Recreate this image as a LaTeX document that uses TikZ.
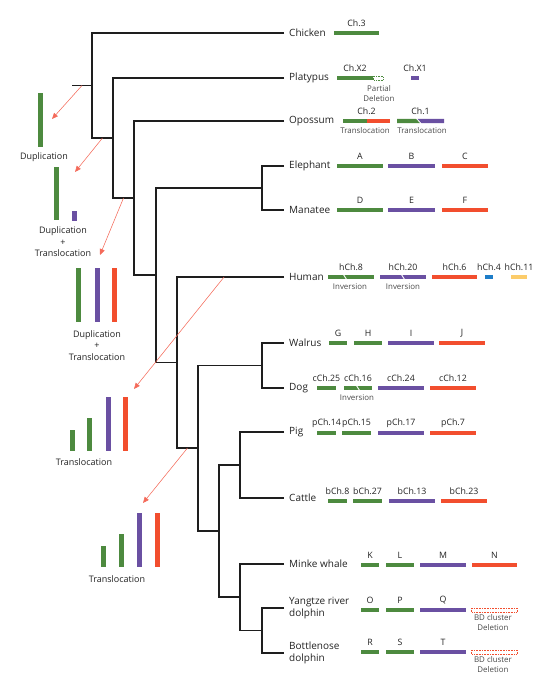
\documentclass[tikz,border=0pt]{standalone}
\usepackage{fontspec}
\setmainfont{Open Sans}
\usepackage{xcolor}
\usepackage{tikz}
\usetikzlibrary{calc,arrows.meta,positioning}
\definecolor{ink}{HTML}{222222}
\definecolor{muted}{HTML}{4A4A4A}
\definecolor{treeline}{HTML}{1E1E1E}
\definecolor{cgreen}{HTML}{4D8A3F}
\definecolor{cpurple}{HTML}{6A50A2}
\definecolor{cred}{HTML}{F24E2E}
\definecolor{cblue}{HTML}{1E7DC8}
\definecolor{cyellow}{HTML}{FCCC6A}
\definecolor{arrowred}{HTML}{F46A5A}
\tikzset{
  branch/.style={draw=treeline, line width=1.3pt, line join=miter},
  leaf/.style={text=ink, font=\fontsize{10}{12.5}\selectfont, inner sep=0pt, align=left},
  chrlab/.style={text=ink, font=\fontsize{8.8}{10}\selectfont, inner sep=0pt},
  note/.style={text=muted, font=\fontsize{7.9}{10}\selectfont, inner sep=0pt, align=center},
  evlab/.style={text=ink, font=\fontsize{9}{11.5}\selectfont, inner sep=0pt, align=center},
  evarrow/.style={draw=arrowred, line width=0.55pt, -{Triangle[length=6pt,width=5pt]}},
  slash/.style={draw=white, line width=0.9pt},
  lost/.style={line width=0.6pt, densely dotted},
}
\newcommand{\chrom}[6]{% name, colour, from, to, y, label
  \fill[#2] (#3,#5-2.2) rectangle (#4,#5+2.2);
  \node[chrlab] (#1) at ({(#3+#4)/2},#5-9.5) {#6};}
\newcommand{\evbar}[4]{\fill[#1] (#2-2.5,#3) rectangle (#2+2.5,#4);}

\begin{document}
\begin{tikzpicture}[x=1pt,y=-1pt]
  \useasboundingbox (0,0) rectangle (553,696);

  % leaf tips
  \coordinate (tChicken) at (284,33);
  \coordinate (tPlatypus) at (284,78);
  \coordinate (tOpossum) at (284,121);
  \coordinate (tElephant) at (284,166);
  \coordinate (tManatee) at (284,210);
  \coordinate (tHuman) at (284,277);
  \coordinate (tWalrus) at (284,343);
  \coordinate (tDog) at (284,388);
  \coordinate (tPig) at (284,432);
  \coordinate (tCattle) at (284,498);
  \coordinate (tMinke) at (284,564);
  \coordinate (tYangtze) at (284,608);
  \coordinate (tBottlenose) at (284,653);

  % inner nodes
  \coordinate (root) at (72,85.5);
  \coordinate (n0) at (92,85.5);
  \coordinate (n1) at (113,138);
  \coordinate (n2) at (134,198);
  \coordinate (n3) at (156,275);
  \coordinate (nAfro) at (262,188); % elephant + manatee
  \coordinate (n4) at (177,362.5);
  \coordinate (nLaur) at (198,448);
  \coordinate (nCarn) at (262,365.5); % walrus + dog
  \coordinate (nCetart) at (219,531);
  \coordinate (nArt) at (240,465); % pig + cattle
  \coordinate (nCet) at (240,597);
  \coordinate (nDol) at (262,630.5); % dolphins

  % tree
  \draw[branch] (root) -- (n0);
  \draw[branch] (tChicken) -| (n0) |- (n1);
  \draw[branch] (tPlatypus) -| (n1) |- (n2);
  \draw[branch] (tOpossum) -| (n2) |- (n3);
  \draw[branch] (nAfro) -| (n3) |- (n4);
  \draw[branch] (tElephant) -| (nAfro) |- (tManatee);
  \draw[branch] (tHuman) -| (n4) |- (nLaur);
  \draw[branch] (nCarn) -| (nLaur) |- (nCetart);
  \draw[branch] (tWalrus) -| (nCarn) |- (tDog);
  \draw[branch] (nArt) -| (nCetart) |- (nCet);
  \draw[branch] (tPig) -| (nArt) |- (tCattle);
  \draw[branch] (tMinke) -| (nCet) |- (nDol);
  \draw[branch] (tYangtze) -| (nDol) |- (tBottlenose);

  % species
  \node[leaf, right=5pt of tChicken] (chicken) {Chicken};
  \node[leaf, right=5pt of tPlatypus] (platypus) {Platypus};
  \node[leaf, right=5pt of tOpossum] (opossum) {Opossum};
  \node[leaf, right=5pt of tElephant] (elephant) {Elephant};
  \node[leaf, right=5pt of tManatee] (manatee) {Manatee};
  \node[leaf, right=5pt of tHuman] (human) {Human};
  \node[leaf, right=5pt of tWalrus] (walrus) {Walrus};
  \node[leaf, right=5pt of tDog] (dog) {Dog};
  \node[leaf, right=5pt of tPig] (pig) {Pig};
  \node[leaf, right=5pt of tCattle] (cattle) {Cattle};
  \node[leaf, right=5pt of tMinke] (minke) {Minke whale};
  \node[leaf, right=5pt of tYangtze] (yangtze) {Yangtze river\\dolphin};
  \node[leaf, right=5pt of tBottlenose] (bottlenose) {Bottlenose\\dolphin};

  % chicken, platypus, opossum
  \chrom{ch3}{cgreen}{334}{379}{33}{Ch.3}
  \chrom{chx2}{cgreen}{337}{373}{78}{Ch.X2}
  \draw[lost, draw=cgreen] (373.5,76) rectangle (383,80);
  \node[note] (partdel) at (379,94) {Partial\\Deletion};
  \chrom{chx1}{cpurple}{411}{419}{78}{Ch.X1}
  \fill[cgreen] (343,118.8) rectangle (367,123.2);
  \fill[cred] (367,118.8) rectangle (390,123.2);
  \node[chrlab] (ch2) at (366.5,111.5) {Ch.2};
  \node[note] (trl1) at (365,131) {Translocation};
  \fill[cgreen] (397,118.8) -- (416,118.8) -- (420,123.2) -- (397,123.2) -- cycle;
  \fill[cpurple] (417.5,118.8) -- (444,118.8) -- (444,123.2) -- (421.5,123.2) -- cycle;
  \node[chrlab] (ch1) at (420.5,111.5) {Ch.1};
  \node[note] (trl2) at (422,131) {Translocation};

  % elephant, manatee
  \chrom{chA}{cgreen}{337}{383}{166}{A}
  \chrom{chB}{cpurple}{388}{435}{166}{B}
  \chrom{chC}{cred}{442}{488}{166}{C}
  \chrom{chD}{cgreen}{337}{383}{210}{D}
  \chrom{chE}{cpurple}{388}{435}{210}{E}
  \chrom{chF}{cred}{442}{488}{210}{F}

  % human
  \chrom{hch8}{cgreen}{328}{374}{277}{hCh.8}
  \chrom{hch20}{cpurple}{380}{426}{277}{hCh.20}
  \chrom{hch6}{cred}{432}{477}{277}{hCh.6}
  \chrom{hch4}{cblue}{485}{493}{277}{hCh.4}
  \chrom{hch11}{cyellow}{511}{527}{277}{hCh.11}
  \draw[slash] (343.5,274.6) -- (346.5,279.4);
  \draw[slash] (401.5,274.6) -- (404.5,279.4);
  \node[note] (inv1) at (350,286.5) {Inversion};
  \node[note] (inv2) at (403,287) {Inversion};

  % walrus, dog
  \chrom{chG}{cgreen}{329}{347}{343}{G}
  \chrom{chH}{cgreen}{354}{382}{343}{H}
  \chrom{chI}{cpurple}{388}{434}{343}{I}
  \chrom{chJ}{cred}{439}{485}{343}{J}
  \chrom{cch25}{cgreen}{317}{336}{388}{cCh.25}
  \chrom{cch16}{cgreen}{344}{372}{388}{cCh.16}
  \chrom{cch24}{cpurple}{378}{424}{388}{cCh.24}
  \chrom{cch12}{cred}{430}{476}{388}{cCh.12}
  \draw[slash] (356.5,385.6) -- (359.5,390.4);
  \node[note] (inv3) at (357,397.5) {Inversion};

  % pig, cattle
  \chrom{pch14}{cgreen}{317}{336}{433}{pCh.14}
  \chrom{pch15}{cgreen}{342}{371}{433}{pCh.15}
  \chrom{pch17}{cpurple}{378}{424}{433}{pCh.17}
  \chrom{pch7}{cred}{430}{476}{433}{pCh.7}
  \chrom{bch8}{cgreen}{328}{347}{501}{bCh.8}
  \chrom{bch27}{cgreen}{353}{382}{501}{bCh.27}
  \chrom{bch13}{cpurple}{389}{435}{501}{bCh.13}
  \chrom{bch23}{cred}{441}{487}{501}{bCh.23}

  % whales
  \chrom{chK}{cgreen}{361}{379}{565}{K}
  \chrom{chL}{cgreen}{386}{414}{565}{L}
  \chrom{chM}{cpurple}{420}{466}{565}{M}
  \chrom{chN}{cred}{472}{517}{565}{N}
  \chrom{chO}{cgreen}{361}{379}{610}{O}
  \chrom{chP}{cgreen}{386}{414}{610}{P}
  \chrom{chQ}{cpurple}{420}{466}{610}{Q}
  \draw[lost, draw=cred] (471.5,608) rectangle (517,612);
  \node[note] (bd1) at (493,623) {BD cluster\\Deletion};
  \chrom{chR}{cgreen}{361}{379}{652}{R}
  \chrom{chS}{cgreen}{386}{414}{652}{S}
  \chrom{chT}{cpurple}{420}{466}{652}{T}
  \draw[lost, draw=cred] (471.5,650) rectangle (517,654);
  \node[note] (bd2) at (493,665) {BD cluster\\Deletion};

  % events on the left
  \evbar{cgreen}{40}{93}{147}
  \node[evlab] (dup1) at (44,157) {Duplication};
  \evbar{cgreen}{56}{167}{220}
  \evbar{cpurple}{74}{211}{221}
  \node[evlab] (dup2) at (63,242) {Duplication\\+\\Translocation};
  \evbar{cgreen}{78}{268}{322}
  \evbar{cpurple}{97}{268}{322}
  \evbar{cred}{114}{268}{322}
  \node[evlab] (dup3) at (97,345.5) {Duplication\\+\\Translocation};
  \evbar{cgreen}{72}{430}{451}
  \evbar{cgreen}{89}{418}{451}
  \evbar{cpurple}{108}{397}{451}
  \evbar{cred}{125}{397}{451}
  \node[evlab] (trans1) at (84,462) {Translocation};
  \evbar{cgreen}{103}{546}{567}
  \evbar{cgreen}{121}{534}{567}
  \evbar{cpurple}{139}{513}{567}
  \evbar{cred}{157}{513}{567}
  \node[evlab] (trans2) at (117,579) {Translocation};

  % arrows from branches
  \coordinate (a1) at ($(root)!0.5!(n0)$);
  \coordinate (a2) at ($(n0|-n1)!0.5!(n1)$);
  \coordinate (a3) at ($(n1|-n2)!0.5!(n2)$);
  \coordinate (a4) at ($(n4|-tHuman)!0.44!(tHuman)$);
  \coordinate (a5) at ($(n4|-nLaur)!0.5!(nLaur)$);
  \coordinate (e1) at (52,119);
  \coordinate (e2) at (75,172);
  \coordinate (e3) at (100,255);
  \coordinate (e4) at (134,389);
  \coordinate (e5) at (143,503);
  \foreach \i in {1,...,5}
    \draw[evarrow] (a\i) -- (e\i);
\end{tikzpicture}
\end{document}
